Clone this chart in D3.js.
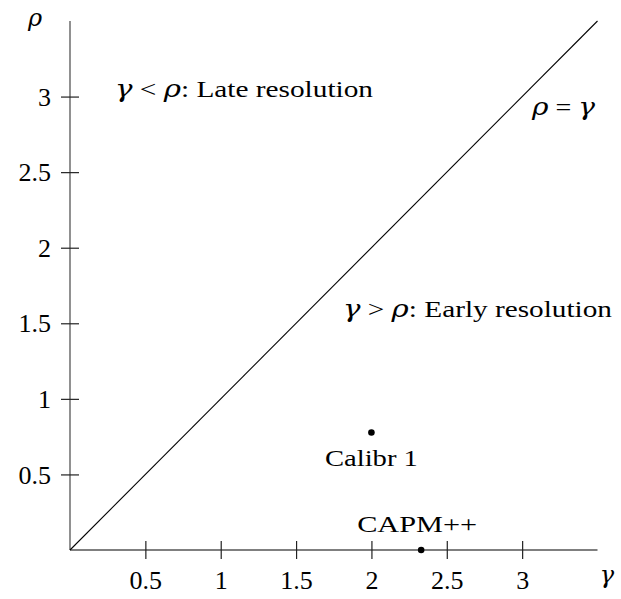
<!DOCTYPE html>
<html>
<head>
<meta charset="utf-8">
<script src="https://cdn.jsdelivr.net/npm/d3@7"></script>
<style>
  body { margin: 0; background: #fff; }
  text { font-family: "Liberation Serif", "DejaVu Serif", serif; fill: #000; }
  .greek { font-family: "DejaVu Serif", serif; font-style: italic; }
</style>
</head>
<body>
<div id="chart"></div>
<script>
const xTicks = [0.5, 1, 1.5, 2, 2.5, 3];
const yTicks = [0.5, 1, 1.5, 2, 2.5, 3];
const xTickLabels = ["0.5", "1", "1.5", "2", "2.5", "3"];
const yTickLabels = ["0.5", "1", "1.5", "2", "2.5", "3"];
const diagonal = [0, 3.5];
const pointNames = ["Calibr 1", "CAPM++"];
const pointGamma = [2, 2.33];
const pointRho = [0.777, 0];

const width = 621, height = 599;
const fs = 24;
const tickFs = 26;

const svg = d3.select("#chart").append("svg")
    .attr("width", width)
    .attr("height", height);

const x = d3.scaleLinear().domain([0, 3.5]).range([70, 597.5]);
const y = d3.scaleLinear().domain([0, 3.5]).range([550, 21]);

// axes
const xAxis = d3.axisBottom(x).tickValues(xTicks).tickSize(0)
    .tickFormat((d, i) => xTickLabels[i]);
const yAxis = d3.axisLeft(y).tickValues(yTicks).tickSize(0)
    .tickFormat((d, i) => yTickLabels[i]);

const gx = svg.append("g").attr("transform", `translate(0,${y(0)})`).call(xAxis);
const gy = svg.append("g").attr("transform", `translate(${x(0)},0)`).call(yAxis);

gx.select(".domain").attr("d", `M${x(0)},0H${x(3.5)}`);
gy.select(".domain").attr("d", `M0,${y(0)}V${y(3.5)}`);

[gx, gy].forEach(g => {
    g.select(".domain").attr("stroke", "#555").attr("stroke-width", 1.3);
    g.selectAll(".tick line").remove();
    g.selectAll("text").style("font-size", tickFs + "px").attr("font-family", null);
});
gx.selectAll(".tick").append("line").attr("y1", -9).attr("y2", 9)
    .attr("stroke", "#222").attr("stroke-width", 1.2);
gx.selectAll(".tick text").attr("y", 22).attr("dy", "0.66em");
gy.selectAll(".tick").append("line").attr("x1", -9).attr("x2", 9)
    .attr("stroke", "#222").attr("stroke-width", 1.2);
gy.selectAll(".tick text").attr("x", -19).attr("dy", "0.33em");

// diagonal rho = gamma
svg.append("line")
    .attr("x1", x(diagonal[0])).attr("y1", y(diagonal[0]))
    .attr("x2", x(diagonal[1])).attr("y2", y(diagonal[1]))
    .attr("stroke", "#000").attr("stroke-width", 1.1);

// points
svg.selectAll("circle.pt")
    .data(pointNames)
    .enter().append("circle")
    .attr("class", "pt")
    .attr("cx", (d, i) => x(pointGamma[i]))
    .attr("cy", (d, i) => y(pointRho[i]))
    .attr("r", 3.3)
    .attr("fill", "#000");

const labelOffset = [33, -18];
const labelWidth = [93, 120];
svg.selectAll("text.pl")
    .data(pointNames)
    .enter().append("text")
    .attr("class", "pl")
    .attr("x", (d, i) => x(pointGamma[i]) - (i === 1 ? 4 : 0))
    .attr("y", (d, i) => y(pointRho[i]) + labelOffset[i])
    .attr("text-anchor", "middle")
    .attr("textLength", (d, i) => labelWidth[i])
    .attr("lengthAdjust", "spacingAndGlyphs")
    .style("font-size", fs + "px")
    .text(d => d);

// math labels
function mathText(px, py, parts, len, anchor) {
    const t = svg.append("text").attr("x", px).attr("y", py)
        .attr("text-anchor", anchor || "start")
        .style("font-size", fs + "px");
    if (len) t.attr("textLength", len).attr("lengthAdjust", "spacingAndGlyphs");
    parts.forEach(p => {
        t.append("tspan").attr("class", p[1] ? "greek" : null).text(p[0]);
    });
    return t;
}

mathText(35, 26, [["ρ", true]], null, "middle");
mathText(607, 583, [["γ", true]], null, "middle");
mathText(115, 97, [["γ", true], [" < ", false], ["ρ", true], [":  Late resolution", false]], 258);
mathText(532, 115, [["ρ", true], [" = ", false], ["γ", true]], 63);
mathText(343, 317, [["γ", true], [" > ", false], ["ρ", true], [":  Early resolution", false]], 269);
</script>
</body>
</html>
